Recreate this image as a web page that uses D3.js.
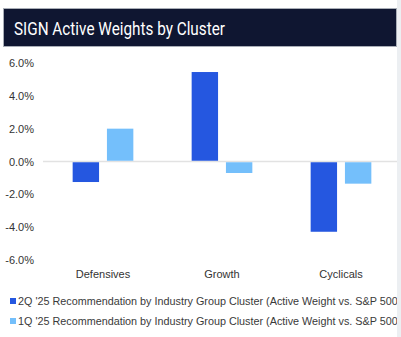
<!DOCTYPE html>
<meta charset="utf-8">
<style>
    body { margin: 0; background: #fff; }
    text { font-family: "Liberation Sans", Arial, sans-serif; }
</style>
<svg width="401" height="337"></svg>
<script src="https://d3js.org/d3.v7.min.js"></script>
<script>

var categories = ["Defensives", "Growth", "Cyclicals"];
var seriesNames = [
    "2Q '25 Recommendation by Industry Group Cluster (Active Weight vs. S&P 500)",
    "1Q '25 Recommendation by Industry Group Cluster (Active Weight vs. S&P 500)"
];
var q2Values = [-1.25, 5.45, -4.28];
var q1Values = [2.0, -0.7, -1.35];
var yTicks = [-6, -4, -2, 0, 2, 4, 6];
var colors = ["#2557e0", "#74bffb"];

var svg = d3.select("svg");

// title bar
svg.append("rect")
    .attr("x", 3.5).attr("y", 8.5)
    .attr("width", 393).attr("height", 38)
    .attr("fill", "#0f1631")
    .attr("stroke", "#a9aeb7");
svg.append("text")
    .attr("x", 14).attr("y", 35)
    .attr("fill", "#fff")
    .attr("font-size", 19)
    .attr("textLength", 211)
    .attr("lengthAdjust", "spacingAndGlyphs")
    .style("font-family", "Roboto, sans-serif")
    .text("SIGN Active Weights by Cluster");

var x0 = d3.scaleBand()
    .domain(categories)
    .range([43.5, 400.5]);

var x1 = d3.scaleBand()
    .domain([0, 1])
    .range([x0.bandwidth() * 0.245, x0.bandwidth() * 0.755])
    .paddingInner(0.23);

var y = d3.scaleLinear()
    .domain([-6, 6])
    .range([260, 63]);

// y axis labels
svg.append("g")
    .selectAll("text")
    .data(yTicks)
    .enter().append("text")
    .attr("x", 34)
    .attr("y", function(d) { return y(d) + 4; })
    .attr("text-anchor", "end")
    .attr("font-size", 11)
    .attr("fill", "#333")
    .text(function(d) { return d.toFixed(1) + "%"; });

// zero line
svg.append("line")
    .attr("x1", 43).attr("x2", 397)
    .attr("y1", y(0)).attr("y2", y(0))
    .attr("stroke", "#e2e2e2")
    .attr("stroke-width", 1.5);

var rows = categories.map(function(c, i) { return [q2Values[i], q1Values[i]]; });

svg.append("g")
    .selectAll("g")
    .data(rows)
    .enter().append("g")
    .attr("transform", function(d, i) { return "translate(" + x0(categories[i]) + ",0)"; })
    .selectAll("rect")
    .data(function(d) { return d; })
    .enter().append("rect")
    .attr("x", function(d, j) { return x1(j); })
    .attr("width", x1.bandwidth())
    .attr("y", function(d) { return Math.min(y(d), y(0) + 0.75); })
    .attr("height", function(d) { return Math.abs(y(d) - y(0)) - 0.75; })
    .attr("fill", function(d, j) { return colors[j]; });

// category labels
svg.append("g")
    .selectAll("text")
    .data(categories)
    .enter().append("text")
    .attr("x", function(d) { return x0(d) + x0.bandwidth() / 2; })
    .attr("y", 278)
    .attr("text-anchor", "middle")
    .attr("font-size", 11)
    .attr("fill", "#333")
    .text(function(d) { return d; });

// legend (runs past the right edge, as in the original)
var legend = svg.append("g")
    .selectAll("g")
    .data(seriesNames)
    .enter().append("g")
    .attr("transform", function(d, i) { return "translate(10," + (301 + i * 20) + ")"; });
legend.append("rect")
    .attr("x", 0).attr("y", -3)
    .attr("width", 6).attr("height", 6)
    .attr("fill", function(d, i) { return colors[i]; });
legend.append("text")
    .attr("x", 8).attr("y", 4)
    .attr("font-size", 10.8)
    .attr("fill", "#3a3a3a")
    .text(function(d) { return d; });

// right edge strip
svg.append("rect")
    .attr("x", 397).attr("y", 0)
    .attr("width", 4).attr("height", 337)
    .attr("fill", "#eceff2");

</script>
